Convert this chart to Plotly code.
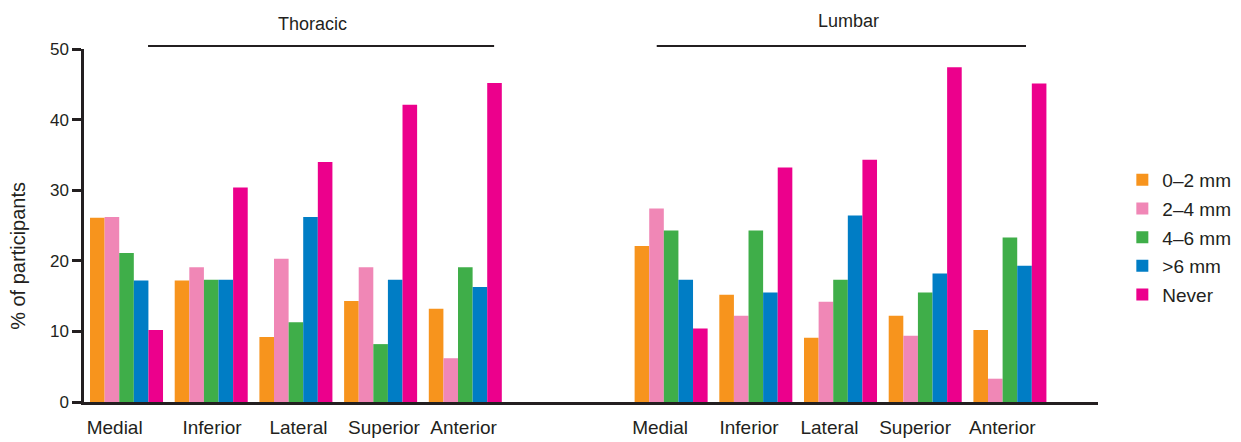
import plotly.graph_objects as go

# ---- data ----
locations = ["Medial", "Inferior", "Lateral", "Superior", "Anterior"]
regions = ["Thoracic", "Lumbar"]
series_names = ["0\u20132 mm", "2\u20134 mm", "4\u20136 mm", ">6 mm", "Never"]

thoracic_0_2 = [26.1, 17.2, 9.2, 14.3, 13.2]
thoracic_2_4 = [26.2, 19.1, 20.3, 19.1, 6.2]
thoracic_4_6 = [21.1, 17.3, 11.3, 8.2, 19.1]
thoracic_gt6 = [17.2, 17.3, 26.2, 17.3, 16.3]
thoracic_never = [10.2, 30.4, 34.0, 42.1, 45.2]

lumbar_0_2 = [22.1, 15.2, 9.1, 12.2, 10.2]
lumbar_2_4 = [27.4, 12.2, 14.2, 9.4, 3.3]
lumbar_4_6 = [24.3, 24.3, 17.3, 15.5, 23.3]
lumbar_gt6 = [17.3, 15.5, 26.4, 18.2, 19.3]
lumbar_never = [10.4, 33.2, 34.3, 47.4, 45.1]

y_ticks = [0, 10, 20, 30, 40, 50]
y_title = "% of participants"

# ---- layout helpers ----
colors = ["#F7941D", "#F087B6", "#3FAE49", "#007DC5", "#EC008C"]
INK = "#231f20"
LUMBAR_OFFSET = 6.43
XMIN, XMAX = -0.502, 11.47
label_shift = [-0.14, 0.01, 0.03, 0.04, -0.02, -0.13, -0.08, -0.13, -0.12, -0.09]

thor_x = [i for i in range(len(locations))]
lumb_x = [LUMBAR_OFFSET + i for i in range(len(locations))]
all_x = thor_x + lumb_x

series = [
    thoracic_0_2 + lumbar_0_2,
    thoracic_2_4 + lumbar_2_4,
    thoracic_4_6 + lumbar_4_6,
    thoracic_gt6 + lumbar_gt6,
    thoracic_never + lumbar_never,
]

def xp(v):
    return (v - XMIN) / (XMAX - XMIN)

fig = go.Figure()
for name, vals, col in zip(series_names, series, colors):
    fig.add_trace(go.Bar(x=all_x, y=vals, name=name, legendgroup=name,
                         marker=dict(color=col, line=dict(width=0))))

FONT = "Liberation Sans, Arial, sans-serif"

fig.update_layout(
    width=1241, height=442,
    margin=dict(l=84, r=143, t=49, b=40, autoexpand=False),
    plot_bgcolor="white", paper_bgcolor="white",
    barmode="group", bargap=0.138, bargroupgap=0,
    font=dict(family=FONT, color=INK),
    legend=dict(x=1.024, y=0.683, xanchor="left", yanchor="top",
                font=dict(family=FONT, size=19, color=INK),
                tracegroupgap=1, bgcolor="rgba(0,0,0,0)"),
    xaxis=dict(range=[XMIN, XMAX], showgrid=False, zeroline=False,
               showline=True, linewidth=2.5, linecolor=INK,
               automargin=False,
               tickmode="array",
               tickvals=[x + s for x, s in zip(all_x, label_shift)],
               ticktext=locations + locations, ticks="", tickangle=0,
               tickfont=dict(size=19, family=FONT, color=INK),
               ticklabelstandoff=6),
    yaxis=dict(range=[0, 50], showgrid=False, zeroline=False,
               showline=True, linewidth=2.5, linecolor=INK,
               automargin=False,
               tickmode="array", tickvals=y_ticks,
               ticks="outside", ticklen=9, tickwidth=2.5, tickcolor=INK,
               tickfont=dict(size=17, family=FONT, color=INK)),
)

fig.add_annotation(x=-0.0651, y=0.414, xref="paper", yref="paper",
                   xanchor="center", yanchor="middle", textangle=-90,
                   text=y_title, showarrow=False,
                   font=dict(size=20, family=FONT, color=INK))

# region brackets and labels
bracket_spans = [(0.254, 4.34), (6.26, 10.62)]
label_centers = [2.20, 8.53]
label_y = [1.072, 1.08]
for (a, b), c, ly, txt in zip(bracket_spans, label_centers, label_y, regions):
    fig.add_shape(type="line", xref="paper", yref="paper",
                  x0=xp(a), x1=xp(b), y0=1.0085, y1=1.0085,
                  line=dict(color=INK, width=1.8))
    fig.add_annotation(x=xp(c), y=ly, xref="paper", yref="paper",
                       xanchor="center", yanchor="middle",
                       text=txt, showarrow=False,
                       font=dict(size=18, family=FONT, color=INK))

fig.write_html("out.html",
               config={"displayModeBar": False},
               post_script="document.body.style.margin='0';document.body.style.padding='0';document.body.style.overflow='hidden';")
